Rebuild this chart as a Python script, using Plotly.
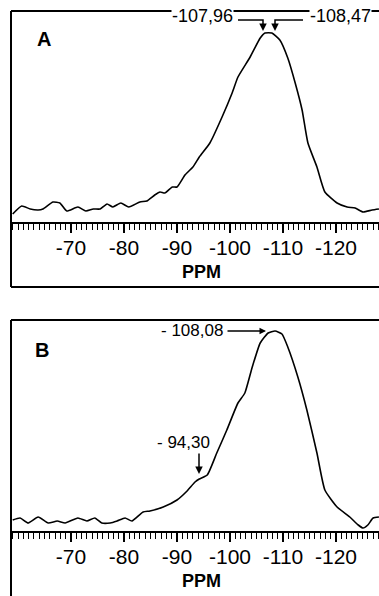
import plotly.graph_objects as go

# ---- data ----
ppm_a = [-59.0, -60.7, -62.3, -63.8, -64.7, -66.6, -67.9, -69.2, -71.3, -72.8, -74.2, -75.5,
         -76.8, -77.9, -79.4, -80.9, -83.0, -84.3, -85.8, -86.8, -87.7, -89.1, -90.0, -91.5,
         -93.0, -94.2, -96.2, -98.5, -100.4, -101.5, -103.8, -105.7, -106.6, -107.9, -109.4,
         -110.9, -112.3, -113.6, -114.7, -116.4, -117.9, -120.2, -122.1, -123.6, -125.1,
         -126.8, -128.1]
int_a = [8, 16, 13, 12, 13, 20, 19, 11, 15, 11, 13, 13, 18, 15, 19, 15, 20, 21, 27, 30, 29,
         35, 35, 47, 55, 65, 79, 105, 129, 145, 165, 184, 189, 189, 182, 164, 139, 112, 79,
         55, 30, 19, 15, 14, 10, 12, 13]

ppm_b = [-59.0, -60.4, -61.9, -63.8, -65.7, -67.4, -68.9, -71.3, -73.0, -74.5, -75.8, -77.4,
         -78.7, -80.2, -81.5, -83.6, -84.9, -87.4, -90.0, -91.9, -93.4, -94.2, -95.7, -97.5,
         -99.4, -101.5, -102.8, -104.2, -105.7, -107.2, -108.5, -109.8, -110.9, -112.8,
         -114.5, -116.4, -117.9, -120.2, -122.6, -124.2, -125.1, -126.0, -127.0, -128.1]
int_b = [11, 13, 8, 14, 8, 10, 8, 13, 10, 13, 8, 8, 10, 13, 10, 19, 20, 24, 31, 40, 49, 52,
         56, 78, 101, 128, 138, 164, 188, 198, 200, 197, 184, 154, 121, 78, 41, 24, 14, 6, 3,
         6, 13, 14]

tick_vals = [-70, -80, -90, -100, -110, -120]
tick_text = ["-70", "-80", "-90", "-100", "-110", "-120"]

panel_labels = ["A", "B"]
peak_labels_a = ["-107,96", "-108,47"]
peak_labels_b = ["- 108,08", "- 94,30"]
x_title = "PPM"

# ---- geometry (pixels) ----
W, H = 379, 596
X_LEFT = 11
X_RANGE = [-58.68, -128.11]
Y_RANGE = [0, 211]


def px(x):
    return x / W


def py(y):
    return 1 - y / H


FONT = "Liberation Sans, Arial, sans-serif"

fig = go.Figure()
fig.add_trace(go.Scatter(x=ppm_a, y=int_a, mode="lines", xaxis="x", yaxis="y",
                         line=dict(color="black", width=1.6, shape="spline", smoothing=0.5),
                         showlegend=False, hoverinfo="skip"))
fig.add_trace(go.Scatter(x=ppm_b, y=int_b, mode="lines", xaxis="x2", yaxis="y2",
                         line=dict(color="black", width=1.6, shape="spline", smoothing=0.5),
                         showlegend=False, hoverinfo="skip"))

xaxis_common = dict(
    range=X_RANGE, showgrid=False, zeroline=False, showline=True, linecolor="black",
    linewidth=2, ticks="outside", tickcolor="black", tickwidth=1.5, ticklen=9,
    tickvals=tick_vals, ticktext=tick_text, ticklabelstandoff=-3,
    tickfont=dict(family="Liberation Sans", size=21, color="black"),
    minor=dict(dtick=1, tick0=-70, ticks="outside", ticklen=6, tickcolor="black", tickwidth=1.2),
    fixedrange=True, automargin=False,
)
yaxis_common = dict(range=Y_RANGE, visible=False, showgrid=False, zeroline=False, fixedrange=True)

fig.update_layout(
    width=W, height=H, margin=dict(l=0, r=0, t=0, b=0),
    paper_bgcolor="white", plot_bgcolor="white",
    xaxis=dict(domain=[px(X_LEFT), 1], anchor="y", **xaxis_common),
    yaxis=dict(domain=[py(222), py(11)], anchor="x", **yaxis_common),
    xaxis2=dict(domain=[px(X_LEFT), 1], anchor="y2", **xaxis_common),
    yaxis2=dict(domain=[py(531), py(320)], anchor="x2", **yaxis_common),
)

shapes = []
line = dict(color="black", width=2)
shapes.append(dict(type="line", xref="paper", yref="paper", x0=px(11), x1=px(11), y0=py(11), y1=py(287), line=line))
shapes.append(dict(type="line", xref="paper", yref="paper", x0=px(11), x1=1, y0=py(11), y1=py(11), line=line))
shapes.append(dict(type="line", xref="paper", yref="paper", x0=px(11), x1=1, y0=py(287), y1=py(287), line=line))
shapes.append(dict(type="line", xref="paper", yref="paper", x0=px(11), x1=px(11), y0=py(320), y1=0, line=line))
shapes.append(dict(type="line", xref="paper", yref="paper", x0=px(11), x1=1, y0=py(320), y1=py(320), line=line))
thin = dict(color="black", width=1.5)
shapes.append(dict(type="path", xref="paper", yref="paper",
                   path=f"M {px(238)} {py(20)} L {px(263)} {py(20)} L {px(263)} {py(26)}", line=thin))
shapes.append(dict(type="path", xref="paper", yref="paper",
                   path=f"M {px(303)} {py(20)} L {px(275)} {py(20)} L {px(275)} {py(26)}", line=thin))
fig.update_layout(shapes=shapes)


def text_ann(text, x, y, size, bg=None):
    d = dict(text=text, x=px(x), y=py(y), xref="paper", yref="paper", showarrow=False,
             xanchor="center", yanchor="middle",
             font=dict(family=FONT, size=size, color="black"))
    if bg:
        d["bgcolor"] = bg
        d["borderpad"] = 0
    return d


def arrow_ann(x, y, ax, ay, w=1.5):
    return dict(text="", x=px(x), y=py(y), xref="paper", yref="paper", showarrow=True,
                ax=ax, ay=ay, arrowhead=2, arrowsize=1, arrowwidth=w, arrowcolor="black")


ann = []
ann.append(text_ann("<b>%s</b>" % panel_labels[0], 44, 39, 20))
ann.append(text_ann("<b>%s</b>" % panel_labels[1], 42, 350, 20))
for yy in (272, 581):
    ann.append(text_ann("<b>%s</b>" % x_title, 201, yy, 18))
ann.append(text_ann(peak_labels_a[0], 202, 16, 18, bg="white"))
ann.append(text_ann(peak_labels_a[1], 340, 16, 18, bg="white"))
for xa in (263, 275):
    ann.append(arrow_ann(xa, 31, 0, -8))
ann.append(text_ann(peak_labels_b[0], 192, 331, 17))
ann.append(arrow_ann(266, 331, -40, 0, 1.3))
ann.append(text_ann(peak_labels_b[1], 183, 442, 17))
ann.append(arrow_ann(199, 474, 0, -22))
fig.update_layout(annotations=ann)

fig.write_html("out.html")
